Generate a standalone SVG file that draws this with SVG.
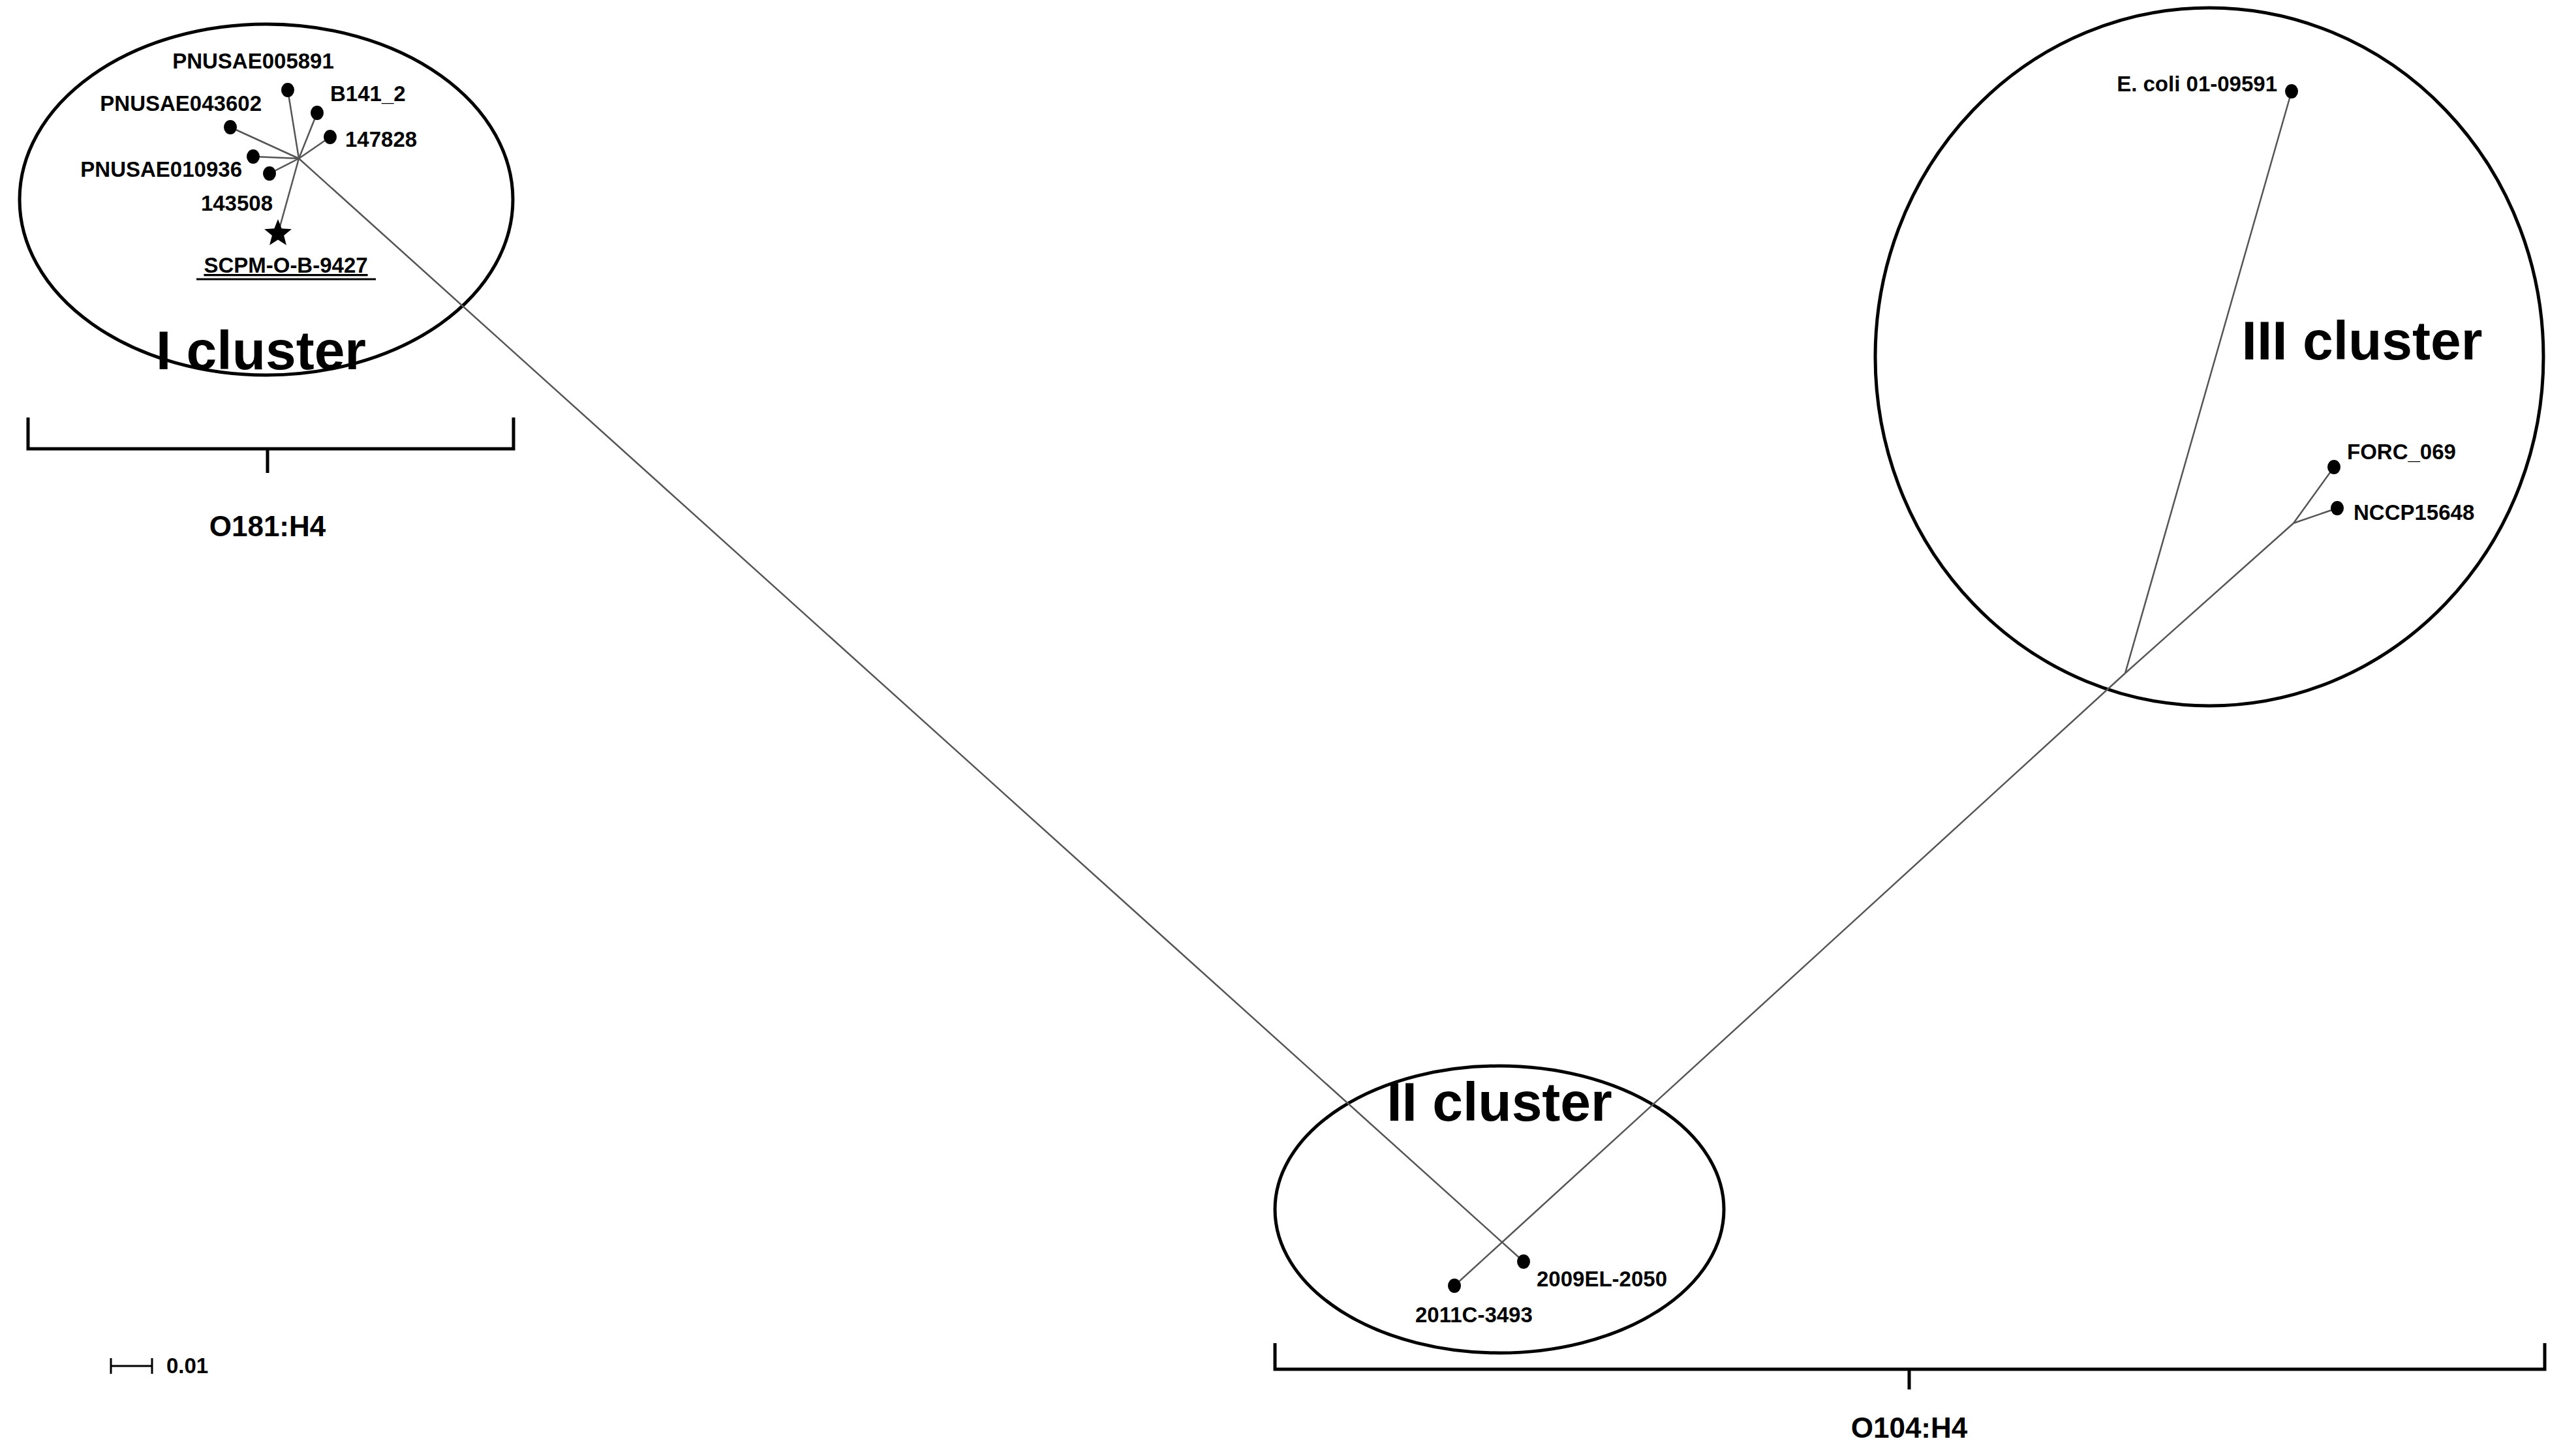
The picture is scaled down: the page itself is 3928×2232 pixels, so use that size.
<svg xmlns="http://www.w3.org/2000/svg" width="3928" height="2232" viewBox="0 0 3928 2232">
<style>
.lbl{font-family:"Liberation Sans",Arial,sans-serif;font-weight:bold;font-size:33px;fill:#000}
.big{font-family:"Liberation Sans",Arial,sans-serif;font-weight:bold;font-size:84px;fill:#000;text-anchor:middle}
.sero{font-family:"Liberation Sans",Arial,sans-serif;font-weight:bold;font-size:44px;fill:#000;text-anchor:middle}
.ell{fill:none;stroke:#000;stroke-width:5}
.br{fill:none;stroke:#000;stroke-width:5}
.edge{stroke:#555;stroke-width:2.5;fill:none}
</style>
<rect width="3928" height="2232" fill="#fff"/>
<g id="cluster-I">
<ellipse class="ell" cx="408" cy="306" rx="378" ry="269"/>
<text class="big" x="400" y="566">I cluster</text>
</g>
<g id="cluster-II">
<ellipse class="ell" cx="2298" cy="1854" rx="344" ry="220"/>
<text class="big" x="2298" y="1718">II cluster</text>
</g>
<g id="cluster-III">
<ellipse class="ell" cx="3386" cy="547" rx="512" ry="535"/>
<text class="big" x="3620" y="551">III cluster</text>
</g>
<g id="connectors">
<line class="edge" x1="458" y1="243" x2="441" y2="138"/>
<line class="edge" x1="458" y1="243" x2="486" y2="173"/>
<line class="edge" x1="458" y1="243" x2="506" y2="210"/>
<line class="edge" x1="458" y1="243" x2="353" y2="195"/>
<line class="edge" x1="458" y1="243" x2="388" y2="240"/>
<line class="edge" x1="458" y1="243" x2="413" y2="266"/>
<line class="edge" x1="458" y1="243" x2="426" y2="358"/>
<line class="edge" x1="458" y1="243" x2="2335" y2="1934"/>
<line class="edge" x1="2229" y1="1971" x2="3257" y2="1032"/>
<line class="edge" x1="3257" y1="1032" x2="3512" y2="140"/>
<line class="edge" x1="3257" y1="1032" x2="3515" y2="802"/>
<line class="edge" x1="3515" y1="802" x2="3577" y2="716"/>
<line class="edge" x1="3515" y1="802" x2="3582" y2="779"/>
</g>
<g id="n-PNUSAE005891"><ellipse cx="441" cy="138" rx="10" ry="11"/><text class="lbl" x="388" y="105" text-anchor="middle">PNUSAE005891</text></g>
<g id="n-B141_2"><ellipse cx="486" cy="173" rx="10" ry="11"/><text class="lbl" x="506" y="155">B141_2</text></g>
<g id="n-147828"><ellipse cx="506" cy="210" rx="10" ry="11"/><text class="lbl" x="529" y="225">147828</text></g>
<g id="n-PNUSAE043602"><ellipse cx="353" cy="195" rx="10" ry="11"/><text class="lbl" x="401" y="170" text-anchor="end">PNUSAE043602</text></g>
<g id="n-PNUSAE010936"><ellipse cx="388" cy="240" rx="10" ry="11"/><text class="lbl" x="371" y="271" text-anchor="end">PNUSAE010936</text></g>
<g id="n-143508"><ellipse cx="413" cy="266" rx="10" ry="11"/><text class="lbl" x="418" y="323" text-anchor="end">143508</text></g>
<g id="n-SCPM-O-B-9427"><polygon points="426,336 431.6,350.3 446.9,351.2 435.1,361 438.9,375.8 426,367.5 413.1,375.8 416.9,361 405.1,351.2 420.4,350.3"/><text class="lbl" x="438" y="418" text-anchor="middle" text-decoration="underline">SCPM-O-B-9427</text><line x1="301" y1="428" x2="576" y2="428" stroke="#000" stroke-width="3"/></g>
<g id="n-2009EL-2050"><ellipse cx="2335" cy="1934" rx="10" ry="11"/><text class="lbl" x="2355" y="1972">2009EL-2050</text></g>
<g id="n-2011C-3493"><ellipse cx="2229" cy="1971" rx="10" ry="11"/><text class="lbl" x="2169" y="2027">2011C-3493</text></g>
<g id="n-Ecoli"><ellipse cx="3512" cy="140" rx="10" ry="11"/><text class="lbl" x="3490" y="140" text-anchor="end">E. coli 01-09591</text></g>
<g id="n-FORC_069"><ellipse cx="3577" cy="716" rx="10" ry="11"/><text class="lbl" x="3597" y="704">FORC_069</text></g>
<g id="n-NCCP15648"><ellipse cx="3582" cy="779" rx="10" ry="11"/><text class="lbl" x="3607" y="797">NCCP15648</text></g>
<g id="brace-O181">
<path class="br" d="M43,640 V688 H410 V725 M410,688 H787 V640"/>
<text class="sero" x="410" y="822">O181:H4</text>
</g>
<g id="brace-O104">
<path class="br" d="M1954,2059 V2099 H2926 V2130 M2926,2099 H3900 V2059"/>
<text class="sero" x="2926" y="2204">O104:H4</text>
</g>
<g id="scale">
<path d="M170,2082 V2106 M170,2094 H233 M233,2082 V2106" stroke="#000" stroke-width="3" fill="none"/>
<text class="lbl" x="255" y="2105">0.01</text>
</g>
</svg>
